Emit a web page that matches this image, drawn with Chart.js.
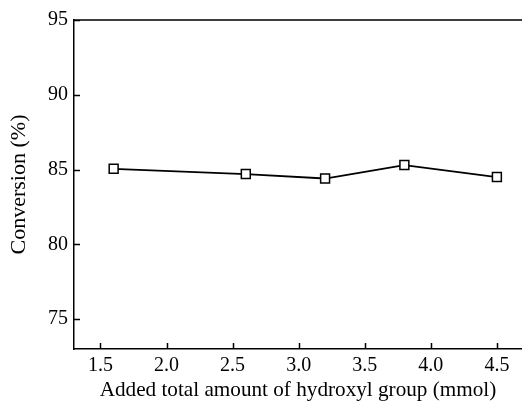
<!DOCTYPE html>
<html>
<head>
<meta charset="utf-8">
<script src="https://cdn.jsdelivr.net/npm/chart.js@4"></script>
<style>
  html, body { margin: 0; padding: 0; background: #fff; }
  #wrap { width: 522px; height: 403px; }
</style>
</head>
<body>
<div id="wrap"><canvas id="convChart" width="522" height="403"></canvas></div>
<script>
    // data
    const hydroxylAmount = [1.6, 2.6, 3.2, 3.8, 4.5];
    const conversion = [85.05, 84.7, 84.4, 85.3, 84.5];
    const xTicks = [1.5, 2.0, 2.5, 3.0, 3.5, 4.0, 4.5];
    const yTicks = [75, 80, 85, 90, 95];

    const serif = 'Liberation Serif, Times New Roman, serif';

    // inward tick marks + top frame line
    const frameTicks = {
        id: 'frameTicks',
        afterDraw(chart) {
            const ctx = chart.ctx;
            const area = chart.chartArea;
            const x = chart.scales.x;
            const y = chart.scales.y;
            ctx.save();
            ctx.strokeStyle = '#000';
            ctx.lineWidth = 1.5;
            ctx.beginPath();
            ctx.moveTo(area.left, area.top);
            ctx.lineTo(area.right, area.top);
            x.ticks.forEach(t => {
                const px = Math.round(x.getPixelForValue(t.value)) + 0.5;
                ctx.moveTo(px, area.bottom);
                ctx.lineTo(px, area.bottom - 6);
            });
            y.ticks.forEach(t => {
                const py = Math.round(y.getPixelForValue(t.value)) + 0.5;
                ctx.moveTo(area.left, py);
                ctx.lineTo(area.left + 6, py);
            });
            ctx.stroke();
            ctx.restore();
        }
    };

    const ctx = document.getElementById('convChart').getContext('2d');
    new Chart(ctx, {
        type: 'line',
        data: {
            datasets: [{
                data: hydroxylAmount.map((v, i) => ({ x: v, y: conversion[i] })),
                borderColor: '#000',
                borderWidth: 1.8,
                tension: 0,
                pointStyle: 'rect',
                pointRadius: 6.3,
                pointBorderWidth: 1.5,
                pointBorderColor: '#000',
                pointBackgroundColor: '#fff'
            }]
        },
        options: {
            responsive: false,
            animation: false,
            layout: {
                autoPadding: false,
                padding: { top: 20, right: 0, left: 0, bottom: 0 }
            },
            scales: {
                x: {
                    type: 'linear',
                    min: 1.3,
                    max: 4.69,
                    afterBuildTicks: s => { s.ticks = xTicks.map(v => ({ value: v })); },
                    afterFit: s => { s.height = 54; s.paddingLeft = 0; s.paddingRight = 0; },
                    grid: { display: false, drawTicks: false },
                    border: { display: true, color: '#000', width: 1.5 },
                    ticks: {
                        color: '#000',
                        padding: 5,
                        font: { family: serif, size: 20 },
                        callback: v => v.toFixed(1)
                    },
                    title: {
                        display: true,
                        text: 'Added total amount of hydroxyl group (mmol)',
                        color: '#000',
                        padding: { top: 0, bottom: 0 },
                        font: { family: serif, size: 21.2 }
                    }
                },
                y: {
                    min: 73,
                    max: 95,
                    afterBuildTicks: s => { s.ticks = yTicks.map(v => ({ value: v })); },
                    afterFit: s => { s.width = 74; s.paddingTop = 0; s.paddingBottom = 0; },
                    grid: { display: false, drawTicks: false },
                    border: { display: true, color: '#000', width: 1.5 },
                    ticks: {
                        color: '#000',
                        padding: 6,
                        font: { family: serif, size: 20 }
                    },
                    title: {
                        display: true,
                        text: 'Conversion (%)',
                        color: '#000',
                        padding: { top: 6, bottom: 0 },
                        font: { family: serif, size: 22 }
                    }
                }
            },
            plugins: {
                legend: { display: false },
                tooltip: { enabled: false }
            }
        },
        plugins: [frameTicks]
    });
</script>
</body>
</html>
